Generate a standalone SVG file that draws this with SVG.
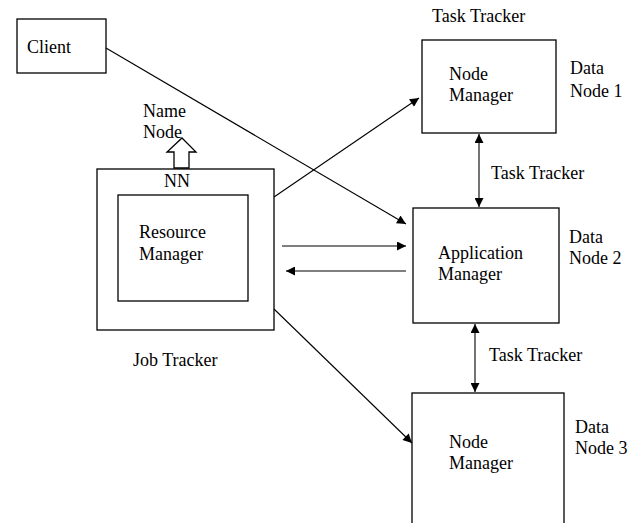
<svg xmlns="http://www.w3.org/2000/svg" width="641" height="523" viewBox="0 0 641 523">
<defs>
<marker id="ah" viewBox="0 0 10 10" refX="10" refY="5" markerWidth="10" markerHeight="9" markerUnits="userSpaceOnUse" orient="auto-start-reverse">
<path d="M0,0 L10,5 L0,10 Z" fill="#000"/>
</marker>
</defs>
<style>
.box{fill:#fff;stroke:#000;stroke-width:1.3}
text{font-family:'Liberation Serif','DejaVu Serif','Times New Roman',serif;font-size:18px;fill:#000}
.c{stroke:#000;stroke-width:1.1;fill:none}
</style>
<rect width="641" height="523" fill="#fff"/>
<g id="client">
<rect class="box" x="17" y="19" width="89" height="54"/>
<text x="27" y="53">Client</text>
</g>
<g id="namenode">
<text x="143" y="117">Name</text>
<text x="143" y="138">Node</text>
<path class="box" d="M182,138 L196,152 L189,152 L189,168 L174,168 L174,152 L167,152 Z"/>
</g>
<g id="jobtracker">
<rect class="box" x="97" y="169" width="177" height="161"/>
<text x="177" y="187" text-anchor="middle">NN</text>
<text x="133" y="366">Job Tracker</text>
</g>
<g id="resourcemanager">
<rect class="box" x="118" y="195" width="130" height="106"/>
<text x="139" y="238">Resource</text>
<text x="139" y="260">Manager</text>
</g>
<g id="datanode1">
<text x="432" y="22">Task Tracker</text>
<rect class="box" x="422" y="40" width="134" height="93"/>
<text x="449" y="80">Node</text>
<text x="449" y="101">Manager</text>
<text x="570" y="74">Data</text>
<text x="570" y="97">Node 1</text>
</g>
<g id="datanode2">
<rect class="box" x="413" y="208" width="146" height="115"/>
<text x="438" y="259">Application</text>
<text x="438" y="280">Manager</text>
<text x="569" y="243">Data</text>
<text x="569" y="264">Node 2</text>
</g>
<g id="datanode3">
<rect class="box" x="412" y="393" width="152" height="131"/>
<text x="449" y="448">Node</text>
<text x="449" y="469">Manager</text>
<text x="575" y="433">Data</text>
<text x="575" y="454">Node 3</text>
</g>
<g id="connectors">
<line class="c" x1="106" y1="48" x2="406" y2="224" marker-end="url(#ah)"/>
<line class="c" x1="274" y1="197" x2="419" y2="98" marker-end="url(#ah)"/>
<line class="c" x1="274" y1="309" x2="412" y2="443" marker-end="url(#ah)"/>
<line class="c" x1="282" y1="246" x2="406" y2="246" marker-end="url(#ah)"/>
<line class="c" x1="406" y1="271" x2="286" y2="271" marker-end="url(#ah)"/>
<line class="c" x1="479" y1="134" x2="479" y2="207" marker-start="url(#ah)" marker-end="url(#ah)"/>
<line class="c" x1="475" y1="324" x2="475" y2="392" marker-start="url(#ah)" marker-end="url(#ah)"/>
<text x="491" y="179">Task Tracker</text>
<text x="489" y="361">Task Tracker</text>
</g>
</svg>
